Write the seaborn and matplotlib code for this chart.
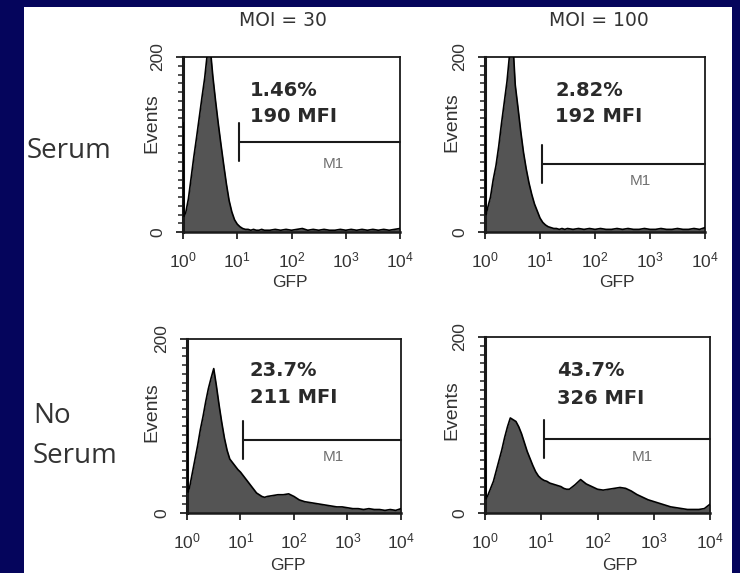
import numpy as np
import matplotlib
matplotlib.use("Agg")
import matplotlib.pyplot as plt
import matplotlib.ticker as mticker
import matplotlib.transforms as mtransforms
from matplotlib.patches import Rectangle
import seaborn as sns

# GFP channel positions (log10 units) shared by all four histograms
gfp_log = [0.0, 0.02, 0.05, 0.10, 0.15, 0.20, 0.25, 0.30, 0.35, 0.40, 0.45,
           0.50, 0.55, 0.60, 0.65, 0.70, 0.75, 0.80, 0.85, 0.90, 0.95, 1.00,
           1.05, 1.10, 1.15, 1.20, 1.25, 1.30, 1.35, 1.40, 1.45, 1.50,
           1.6, 1.7, 1.8, 1.9, 2.0, 2.1, 2.2, 2.3, 2.4, 2.5, 2.6, 2.7, 2.8,
           2.9, 3.0, 3.1, 3.2, 3.3, 3.4, 3.5, 3.6, 3.7, 3.8, 3.9, 4.0]

# events per channel
serum_moi30 = [125, 18, 22, 38, 62, 86, 108, 131, 154, 176, 205,
               212, 178, 150, 124, 100, 77, 55, 36, 23, 14, 9,
               6, 4, 3, 3, 2, 3, 2, 2, 3, 2,
               2, 3, 2, 3, 2, 3, 4, 2, 3, 2, 3, 2, 2,
               3, 2, 3, 2, 3, 2, 3, 2, 3, 2, 3, 4]
serum_moi100 = [130, 20, 28, 40, 60, 76, 98, 124, 148, 172, 205,
                225, 168, 142, 115, 91, 72, 56, 43, 32, 24, 16,
                11, 8, 6, 5, 4, 4, 3, 4, 3, 4,
                3, 4, 3, 4, 3, 4, 3, 3, 4, 3, 4, 3, 3,
                4, 3, 3, 4, 3, 3, 4, 3, 3, 4, 3, 5]
noserum_moi30 = [108, 24, 30, 46, 62, 78, 96, 111, 128, 143, 155,
                 166, 146, 124, 104, 86, 72, 62, 58, 54, 50, 47,
                 43, 39, 35, 31, 27, 23, 21, 19, 18, 19,
                 20, 21, 21, 22, 19, 15, 13, 12, 11, 10, 9, 8, 7,
                 7, 6, 5, 5, 4, 5, 4, 4, 3, 4, 3, 5]
noserum_moi100 = [95, 16, 20, 28, 36, 48, 60, 72, 86, 98, 108,
                  106, 104, 98, 90, 80, 70, 62, 54, 47, 42, 39,
                  37, 36, 34, 33, 32, 31, 30, 28, 27, 27,
                  32, 38, 33, 30, 27, 26, 27, 28, 29, 28, 25, 21, 18,
                  15, 13, 11, 9, 7, 6, 5, 4, 4, 4, 5, 10]

pct_labels = ["1.46%", "2.82%", "23.7%", "43.7%"]
mfi_labels = ["190 MFI", "192 MFI", "211 MFI", "326 MFI"]
gate_start = [11, 11, 11, 11]  # M1 gate lower bound (GFP)
col_titles = ["MOI = 30", "MOI = 100"]
xtick_vals = [1, 10, 100, 1000, 10000]
xtick_labels = ["$10^{0}$", "$10^{1}$", "$10^{2}$", "$10^{3}$", "$10^{4}$"]

W, H = 740, 573
navy = "#05055c"
fill_grey = "#545454"
text_col = "#2a2a2a"

sns.set_style("white")
plt.rcParams["font.family"] = ["Liberation Sans Narrow", "Liberation Sans", "DejaVu Sans"]
plt.rcParams["mathtext.fontset"] = "custom"
plt.rcParams["mathtext.rm"] = "Liberation Sans"
plt.rcParams["mathtext.it"] = "Liberation Sans"

fig = plt.figure(figsize=(W / 100, H / 100), dpi=100, facecolor=navy)
fig.patches.append(Rectangle((24 / W, 0), (732 - 24) / W, 1 - 7 / H,
                             transform=fig.transFigure, facecolor="white",
                             edgecolor="none", zorder=-5))


def px(x, y):
    return x / W, 1 - y / H


# panel boxes in pixels: left, top, right, bottom
boxes = [(183, 57, 400, 232), (485, 57, 705, 232),
         (187, 339, 401, 513), (485, 337, 710, 513)]
events_xy = [(152, 123), (452, 122), (152, 412), (452, 410)]
gfp_xy = [(290, 283), (617, 283), (288, 566), (620, 566)]
text_xy = [(0.31, 0.81, 0.66), (0.32, 0.81, 0.66), (0.294, 0.82, 0.665), (0.32, 0.81, 0.65)]
gate_y = [0.514, 0.39, 0.42, 0.42]
m1_xy = [(600, 0.39), (660, 0.29), (540, 0.32), (630, 0.32)]

series = [serum_moi30, serum_moi100, noserum_moi30, noserum_moi100]
x_vals = 10 ** np.array(gfp_log)

for i, counts in enumerate(series):
    l, t, r, b = boxes[i]
    ax = fig.add_axes([l / W, 1 - b / H, (r - l) / W, (b - t) / H])
    ax.set_facecolor("white")
    ax.set_xscale("log")
    ax.fill_between(x_vals, counts, color=fill_grey, lw=0, zorder=2)
    sns.lineplot(x=x_vals, y=counts, ax=ax, color="black", lw=1.2, zorder=3)
    ax.set_xlim(1, 10000)
    ax.set_ylim(0, 200)

    ax.set_xticks(xtick_vals)
    ax.set_xticklabels(xtick_labels)
    ax.xaxis.set_minor_locator(mticker.LogLocator(base=10, subs=np.arange(2, 10)))
    ax.xaxis.set_minor_formatter(mticker.NullFormatter())
    ax.set_yticks([0, 200])
    ax.set_yticklabels(["0", "200"], rotation=90, va="center")
    ax.yaxis.set_minor_locator(mticker.MultipleLocator(10))
    ax.tick_params(axis="x", which="major", direction="out", length=5, width=1.3,
                   pad=8, labelsize=12.5, colors="#222", labelcolor="#333")
    ax.tick_params(axis="x", which="minor", direction="out", length=3.5, width=1.1, colors="#222")
    ax.tick_params(axis="y", which="major", direction="out", length=5, width=1.3,
                   pad=8, labelsize=12.5, colors="#222", labelcolor="#333")
    ax.tick_params(axis="y", which="minor", direction="out", length=3.5, width=1.1, colors="#222")
    ax.tick_params(bottom=True, left=True, which="both")
    for side, spine in ax.spines.items():
        spine.set_visible(True)
        spine.set_color("#1a1a1a")
        spine.set_linewidth(1.3)
    ax.spines["left"].set_linewidth(2.2)
    ax.spines["bottom"].set_linewidth(1.8)
    ax.set_xlabel("")
    ax.set_ylabel("")

    # M1 gate marker
    trans = mtransforms.blended_transform_factory(ax.transData, ax.transAxes)
    gy = gate_y[i]
    ax.plot([gate_start[i], 10000], [gy, gy], color="#1a1a1a", lw=1.5,
            transform=trans, clip_on=False, zorder=4)
    ax.plot([gate_start[i], gate_start[i]], [gy - 0.11, gy + 0.11], color="#1a1a1a",
            lw=1.5, transform=trans, zorder=4)
    mx, my = m1_xy[i]
    ax.text(mx, my, "M1", transform=trans, ha="center", va="center",
            fontsize=11, color="#707070", family="Liberation Sans")

    tx, ty1, ty2 = text_xy[i]
    ax.text(tx, ty1, pct_labels[i], transform=ax.transAxes, ha="left", va="center",
            fontsize=14, fontweight="bold", color=text_col, family="DejaVu Sans")
    ax.text(tx, ty2, mfi_labels[i], transform=ax.transAxes, ha="left", va="center",
            fontsize=14, fontweight="bold", color=text_col, family="DejaVu Sans")

    ex, ey = events_xy[i]
    fig.text(*px(ex, ey), "Events", rotation=90, ha="center", va="center",
             fontsize=14, color="#333")
    gx, gyy = gfp_xy[i]
    fig.text(*px(gx, gyy), "GFP", ha="center", va="center", fontsize=12.5, color="#333",
             family="Liberation Sans")

# column titles
fig.text(*px(283, 20), col_titles[0], ha="center", va="center", fontsize=13.5,
         color="#333", family="DejaVu Sans")
fig.text(*px(599, 20), col_titles[1], ha="center", va="center", fontsize=13.5,
         color="#333", family="DejaVu Sans")

# row labels
fig.text(*px(27, 158), "Serum", ha="left", va="baseline", fontsize=20,
         color="#333", family="Open Sans")
fig.text(*px(33, 423), "No", ha="left", va="baseline", fontsize=20,
         color="#333", family="Open Sans")
fig.text(*px(33, 463), "Serum", ha="left", va="baseline", fontsize=20,
         color="#333", family="Open Sans")

fig.savefig("out.png", dpi=100, facecolor=navy)
